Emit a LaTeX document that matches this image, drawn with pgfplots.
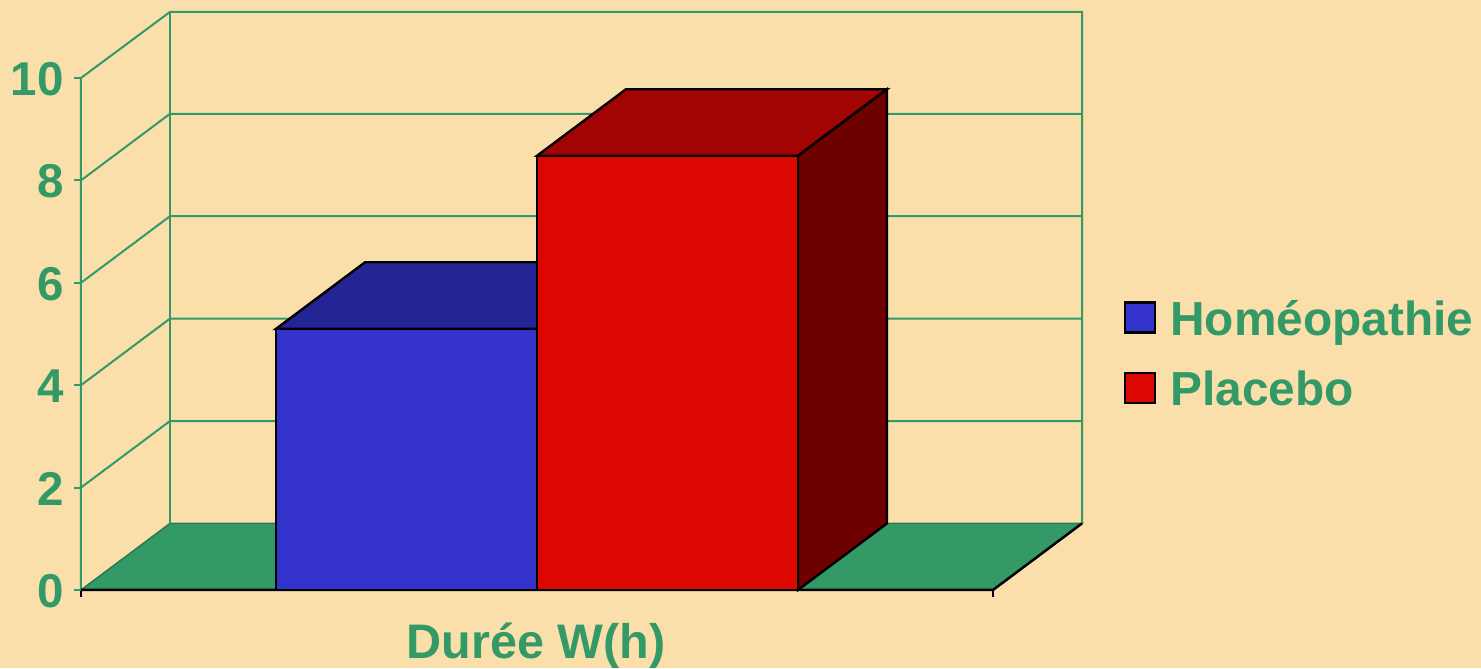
\documentclass[border=0pt]{standalone}
\usepackage{fontspec}
\setmainfont{Liberation Sans}
\usepackage{pgfplots}
\pgfplotsset{compat=1.18}
\definecolor{bgc}{HTML}{FBDFAA}
\definecolor{grn}{HTML}{339966}
\definecolor{grnd}{HTML}{2B7A52}
\definecolor{bluef}{HTML}{3333CC}
\definecolor{bluet}{HTML}{242496}
\definecolor{redf}{HTML}{DC0700}
\definecolor{redt}{HTML}{A20404}
\definecolor{reds}{HTML}{6E0000}
\begin{document}
\begin{tikzpicture}
\begin{axis}[
  scale only axis, width=912pt, height=512pt,
  xmin=81, xmax=993, ymin=0, ymax=10,
  clip=false, axis on top,
  axis line style={draw=none},
  xtick={81,993}, xticklabels={,},
  ytick={0,2,4,6,8,10},
  xtick pos=bottom, ytick pos=left,
  tick align=outside, major tick length=7pt,
  x tick style={black,line width=2pt},
  y tick style={grn,line width=2pt},
  yticklabel style={/pgf/number format/assume math mode=true,
    font=\fontsize{47.5}{47.5}\selectfont\bfseries, text=grn, inner sep=0pt, xshift=-10pt, yshift=-1pt},
  xlabel={Durée W(h)},
  xlabel style={at={(axis cs:536,-1.09)},anchor=center,
    font=\fontsize{48.5}{48.5}\selectfont\bfseries, text=grn, inner sep=0pt},
  legend style={at={(axis cs:1124,5.70)},anchor=north west,draw=none,fill=none,
    inner sep=0pt,outer sep=0pt,row sep=30pt,
    font=\fontsize{47.8}{48}\selectfont\bfseries, text=grn,
    /tikz/column 1/.style={column sep=12pt}},
  legend cell align=left,
  legend image code/.code={\draw[#1,draw=black,line width=2.4pt] (0pt,-14pt) rectangle (30pt,16pt);},
]
% page background
\addplot[draw=none,fill=bgc,forget plot] coordinates {(0,-1.523) (1481,-1.523) (1481,11.523) (0,11.523)} -- cycle;
% floor
\addplot[draw=grnd,line width=1.5pt,fill=grn,forget plot] coordinates {(81,0) (993,0) (1082,1.30) (170,1.30)} -- cycle;
% walls
\addplot[grn,line width=2pt,forget plot] coordinates {(81,0) (81,10) (170,11.29) (1082,11.29) (1082,1.30)};
\addplot[grn,line width=2pt,forget plot] coordinates {(170,1.30) (170,11.29)};
\addplot[grn,line width=2pt,forget plot] coordinates {(81,2) (170,3.30) (1082,3.30)};
\addplot[grn,line width=2pt,forget plot] coordinates {(81,4) (170,5.30) (1082,5.30)};
\addplot[grn,line width=2pt,forget plot] coordinates {(81,6) (170,7.30) (1082,7.30)};
\addplot[grn,line width=2pt,forget plot] coordinates {(81,8) (170,9.30) (1082,9.30)};
% floor edges
\addplot[black,line width=2.5pt,forget plot] coordinates {(81,0) (993,0) (1082,1.30)};
% Homeopathie: 5.10
\addplot[draw=black,line width=2.4pt,fill=bluet,forget plot] coordinates {(276,5.10) (365,6.40) (626,6.40) (537,5.10)} -- cycle;
\addplot[draw=black,line width=2.4pt,fill=bluef] coordinates {(276,0) (537,0) (537,5.10) (276,5.10)} -- cycle;
\addlegendentry{Homéopathie}
% Placebo: 8.48
\addplot[draw=black,line width=2.4pt,fill=redt,forget plot] coordinates {(537,8.48) (626,9.78) (887,9.78) (798,8.48)} -- cycle;
\addplot[draw=black,line width=2.4pt,fill=reds,forget plot] coordinates {(798,0) (887,1.30) (887,9.78) (798,8.48)} -- cycle;
\addplot[draw=black,line width=2.4pt,fill=redf] coordinates {(537,0) (798,0) (798,8.48) (537,8.48)} -- cycle;
\addlegendentry{Placebo}
\end{axis}
\end{tikzpicture}
\end{document}
